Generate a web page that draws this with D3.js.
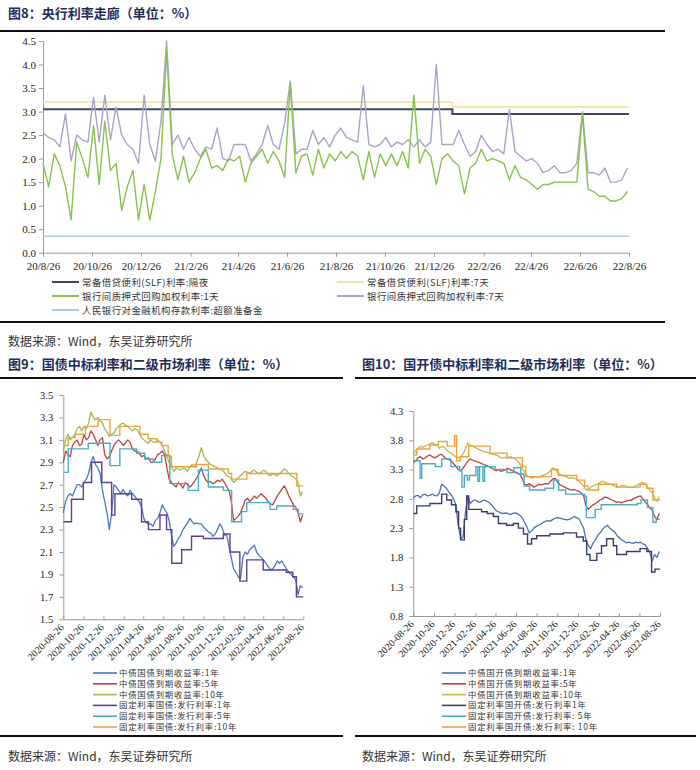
<!DOCTYPE html>
<html><head><meta charset="utf-8">
<script src="https://cdn.jsdelivr.net/npm/d3@7"></script>
<style>body{margin:0;background:#fff}svg{display:block}</style>
</head><body>
<svg id="c" width="700" height="770"></svg>
<script>
// ---------------- DATA ----------------
const tickDates = ["2020-08-26","2020-10-26","2020-12-26","2021-02-26","2021-04-26","2021-06-26","2021-08-26","2021-10-26","2021-12-26","2022-02-26","2022-04-26","2022-06-26","2022-08-26"];

// Fig 8 (weekly observations from 2020-08-26)
const dr007 = [2.55,2.45,2.4,2.25,2.95,1.95,2.5,2.4,2.35,3.3,2.35,3.35,2.4,
 3.1,2.5,2.3,2.2,1.9,3.35,2.3,1.95,2.8,4.5,2.3,2.5,2.2,
 2.45,2.2,2.05,2.25,2.2,2.65,2.0,1.95,2.3,2.3,2.3,1.95,2.1,
 2.3,2.7,2.3,2.2,2.75,3.65,2.1,2.2,2.2,2.6,2.3,2.45,2.25,
 2.5,2.65,2.45,2.4,2.35,3.55,2.3,2.25,2.3,2.45,2.25,2.35,2.3,
 2.4,2.25,2.4,2.25,2.35,4.0,2.3,2.3,2.3,2.6,2.3,2.05,2.15,
 2.5,2.3,2.15,2.2,2.1,3.05,2.15,2.05,1.95,2.0,1.9,1.7,1.75,
 1.85,1.7,1.7,1.75,1.9,3.0,1.7,1.7,1.65,1.8,1.5,1.5,1.55,1.8];
const dr001 = [1.9,1.4,2.1,1.85,1.4,0.7,2.35,2.0,1.6,2.7,1.45,2.8,1.75,
 1.9,0.9,1.4,1.75,0.7,1.45,0.7,1.3,2.0,4.3,2.1,1.55,2.05,
 1.5,1.7,2.0,2.2,1.8,1.85,1.75,2.0,1.95,2.05,1.5,1.9,2.05,
 2.2,1.9,2.15,1.95,1.6,3.6,1.7,2.05,2.1,1.65,2.2,1.8,2.1,
 1.95,2.15,2.0,2.15,2.05,1.55,2.15,1.6,2.1,1.85,2.1,1.85,2.15,
 1.8,3.35,1.9,2.2,2.05,1.45,2.0,2.1,1.95,1.85,1.25,1.8,1.9,
 2.2,1.95,2.0,1.95,1.9,1.55,1.85,1.6,1.55,1.45,1.35,1.45,1.45,
 1.5,1.5,1.5,1.5,1.5,2.95,1.35,1.3,1.2,1.2,1.1,1.1,1.15,1.3];
const slfOnDates = ["2020-08-26","2022-01-18"], slfOnVals = [3.05,2.95];
const slf7dDates = ["2020-08-26","2022-01-18"], slf7dVals = [3.2,3.1];
const excessDates = ["2020-08-26"], excessVals = [0.35];
const fig8Labels = ["常备借贷便利(SLF)利率:隔夜","常备借贷便利(SLF)利率:7天","银行间质押式回购加权利率:1天","银行间质押式回购加权利率:7天","人民银行对金融机构存款利率:超额准备金"];

// Fig 9 : treasury yields (weekly) and issuance rates (step change points)
const cgb1y = [2.45,2.55,2.6,2.62,2.6,2.65,2.7,2.7,2.68,2.72,2.75,2.8,2.9,
 2.95,2.88,2.85,2.8,2.65,2.55,2.45,2.3,2.45,2.7,2.68,2.65,2.62,
 2.66,2.62,2.6,2.65,2.62,2.6,2.57,2.55,2.5,2.4,2.36,2.35,2.35,
 2.33,2.38,2.4,2.45,2.52,2.48,2.45,2.38,2.25,2.15,2.18,2.22,2.25,
 2.3,2.33,2.36,2.4,2.37,2.35,2.36,2.35,2.35,2.32,2.3,2.28,2.27,
 2.24,2.26,2.3,2.35,2.32,2.25,2.25,2.15,2.05,1.95,1.92,1.88,1.86,
 2.05,2.1,2.08,2.12,2.14,2.16,2.1,2.07,2.05,2.03,2.0,1.97,1.94,
 1.95,1.98,2.02,2.0,2.02,1.98,1.95,1.92,1.9,1.88,1.85,1.72,1.8,1.78];
const cgb5y = [2.9,3.0,2.97,2.95,3.05,3.08,3.1,3.05,3.06,3.15,3.1,3.12,3.18,
 3.15,3.1,3.05,3.1,3.12,2.97,2.93,2.95,3.0,3.05,3.08,3.1,3.08,
 3.05,3.07,3.1,3.08,3.02,3.0,3.0,2.98,2.95,2.96,2.93,2.94,2.9,
 2.9,2.93,2.97,2.98,3.0,2.97,2.85,2.75,2.72,2.7,2.68,2.72,2.7,
 2.67,2.72,2.7,2.68,2.7,2.73,2.76,2.8,2.85,2.78,2.74,2.72,2.73,
 2.71,2.72,2.74,2.73,2.75,2.72,2.68,2.65,2.55,2.38,2.4,2.42,2.45,
 2.5,2.56,2.58,2.55,2.57,2.6,2.58,2.6,2.62,2.6,2.58,2.55,2.53,
 2.52,2.56,2.6,2.63,2.66,2.69,2.65,2.6,2.56,2.52,2.5,2.45,2.37,2.43];
const cgb10y = [3.0,3.1,3.15,3.1,3.12,3.15,3.2,3.22,3.18,3.22,3.2,3.25,3.35,
 3.3,3.28,3.3,3.27,3.25,3.2,3.17,3.13,3.15,3.16,3.2,3.22,3.24,
 3.25,3.23,3.22,3.2,3.18,3.2,3.19,3.16,3.12,3.1,3.08,3.07,3.1,
 3.08,3.08,3.1,3.08,3.05,3.0,2.95,2.9,2.86,2.82,2.85,2.84,2.83,
 2.85,2.84,2.82,2.86,2.88,2.87,2.9,2.96,3.03,2.96,2.92,2.9,2.88,
 2.87,2.86,2.85,2.84,2.83,2.81,2.78,2.77,2.75,2.72,2.74,2.76,2.78,
 2.8,2.82,2.81,2.8,2.82,2.83,2.81,2.8,2.81,2.83,2.82,2.79,2.78,
 2.8,2.79,2.78,2.8,2.82,2.84,2.83,2.8,2.78,2.77,2.75,2.72,2.6,2.64];
const iss1yDates = ["2020-08-26","2020-09-20","2020-10-26","2020-11-20","2020-12-21","2021-01-20","2021-01-30","2021-03-22","2021-04-21","2021-05-12","2021-06-16","2021-07-06","2021-07-22","2021-08-21","2021-09-20","2021-10-26","2021-12-26","2022-01-15","2022-02-14","2022-03-07","2022-04-26","2022-07-05","2022-07-25","2022-08-05"];
const iss1yVals = [2.37,2.57,2.72,2.9,2.72,2.43,2.62,2.57,2.37,2.3,2.43,2.3,2.0,2.12,2.24,2.22,2.26,2.1,1.84,2.03,1.94,1.92,1.88,1.7];
const iss5yDates = ["2020-08-26","2020-09-10","2020-11-10","2021-01-15","2021-02-14","2021-04-06","2021-05-01","2021-05-27","2021-06-21","2021-07-16","2021-09-10","2021-10-11","2021-11-10","2021-12-26","2022-01-20","2022-02-19","2022-03-07","2022-05-17","2022-06-06","2022-07-27","2022-08-11"];
const iss5yVals = [2.81,3.02,3.07,2.87,3.02,2.98,2.93,2.9,2.96,2.71,2.65,2.83,2.68,2.65,2.37,2.46,2.54,2.48,2.51,2.48,2.44];
const iss10yDates = ["2020-08-26","2020-09-10","2020-10-01","2020-11-01","2020-12-10","2021-01-15","2021-02-14","2021-04-16","2021-05-11","2021-06-06","2021-06-21","2021-07-11","2021-07-21","2021-10-06","2021-11-10","2022-01-10","2022-01-20","2022-03-07","2022-08-06"];
const iss10yVals = [3.05,3.12,3.15,3.22,3.28,3.14,3.22,3.15,3.11,3.08,3.05,2.95,2.86,2.88,2.84,2.8,2.75,2.8,2.69];
const fig9Labels = ["中债国债到期收益率:1年","中债国债到期收益率:5年","中债国债到期收益率:10年","固定利率国债:发行利率:1年","固定利率国债:发行利率:5年","固定利率国债:发行利率:10年"];

// Fig 10 : CDB yields (weekly) and issuance rates (step change points)
const cdb1y = [2.82,2.85,2.86,2.82,2.87,2.88,2.85,2.86,2.88,2.86,2.85,2.9,3.05,
 3.02,2.98,2.92,2.87,2.8,2.7,2.35,2.12,2.15,2.55,2.85,2.72,2.76,
 2.78,2.76,2.74,2.76,2.78,2.76,2.74,2.7,2.65,2.6,2.58,2.56,2.55,
 2.56,2.55,2.53,2.55,2.56,2.55,2.52,2.48,2.4,2.32,2.22,2.25,2.3,
 2.33,2.35,2.37,2.4,2.42,2.43,2.42,2.45,2.47,2.48,2.47,2.46,2.45,
 2.44,2.45,2.47,2.5,2.48,2.46,2.38,2.3,2.1,2.0,1.95,2.05,2.1,
 2.18,2.22,2.28,2.32,2.35,2.3,2.27,2.24,2.18,2.14,2.1,2.08,2.05,
 2.06,2.05,2.04,2.06,2.05,2.06,2.03,2.02,1.96,1.88,1.74,1.85,1.8,1.9];
const cdb5y = [3.42,3.45,3.5,3.52,3.48,3.5,3.53,3.55,3.52,3.5,3.52,3.55,3.56,
 3.52,3.48,3.47,3.45,3.4,3.36,3.3,3.28,3.32,3.38,3.44,3.48,3.46,
 3.45,3.43,3.42,3.4,3.38,3.37,3.35,3.33,3.3,3.28,3.3,3.27,3.28,
 3.3,3.32,3.3,3.28,3.26,3.24,3.22,3.15,3.05,3.04,3.06,3.03,3.0,
 3.02,3.05,3.04,3.05,3.06,3.05,3.1,3.14,3.15,3.08,3.04,3.02,3.0,
 2.98,2.96,2.95,2.96,2.94,2.93,2.9,2.85,2.68,2.62,2.66,2.7,2.72,
 2.75,2.78,2.8,2.83,2.82,2.8,2.78,2.76,2.74,2.75,2.73,2.75,2.76,
 2.78,2.77,2.8,2.82,2.84,2.85,2.8,2.75,2.7,2.65,2.6,2.5,2.45,2.55];
const cdb10y = [3.57,3.62,3.66,3.7,3.68,3.7,3.72,3.74,3.76,3.73,3.72,3.66,3.7,
 3.68,3.64,3.6,3.58,3.55,3.52,3.5,3.52,3.56,3.65,3.75,3.72,3.7,
 3.68,3.66,3.64,3.62,3.6,3.6,3.58,3.57,3.56,3.55,3.53,3.5,3.5,
 3.51,3.5,3.52,3.5,3.48,3.45,3.4,3.33,3.26,3.2,3.18,3.15,3.17,
 3.18,3.17,3.19,3.2,3.22,3.24,3.28,3.33,3.3,3.25,3.22,3.2,3.19,
 3.17,3.15,3.16,3.15,3.14,3.1,3.06,3.02,2.95,2.96,3.0,3.02,3.04,
 3.06,3.08,3.1,3.08,3.07,3.05,3.04,3.02,3.0,3.01,3.02,3.03,3.01,
 3.0,2.99,3.0,3.02,3.04,3.07,3.08,3.05,3.0,2.95,2.9,2.82,2.76,2.84];
const cdbIss1yDates = ["2020-08-26","2020-09-05","2020-10-14","2020-11-18","2020-12-03","2020-12-17","2020-12-30","2021-01-07","2021-01-13","2021-01-24","2021-01-31","2021-02-06","2021-03-16","2021-04-02","2021-04-20","2021-05-05","2021-05-29","2021-06-18","2021-07-03","2021-07-18","2021-07-30","2021-08-11","2021-08-26","2021-10-04","2021-11-13","2021-12-22","2022-01-11","2022-01-21","2022-01-31","2022-02-20","2022-03-06","2022-03-21","2022-04-10","2022-04-20","2022-05-19","2022-06-28","2022-07-18","2022-08-01","2022-08-11"];
const cdbIss1yVals = [2.55,2.68,2.72,2.88,2.78,2.7,2.58,2.3,2.1,2.45,2.85,2.62,2.58,2.55,2.5,2.38,2.35,2.38,2.3,2.2,2.03,2.12,2.17,2.2,2.22,2.15,2.08,1.85,1.75,1.87,2.0,2.12,2.0,1.85,1.9,1.95,1.9,1.55,1.6];
const cdbIss5yDates = ["2020-08-26","2020-09-15","2020-09-20","2020-10-30","2020-11-18","2020-12-15","2021-01-10","2021-01-17","2021-01-24","2021-02-02","2021-02-08","2021-02-27","2021-03-05","2021-03-10","2021-03-20","2021-03-25","2021-04-25","2021-05-30","2021-06-20","2021-07-10","2021-07-20","2021-08-05","2021-09-20","2021-10-15","2021-10-30","2021-11-20","2022-01-15","2022-01-20","2022-02-15","2022-03-05","2022-06-20","2022-07-01","2022-07-20","2022-08-05","2022-08-15"];
const cdbIss5yVals = [3.45,3.15,3.4,3.35,3.48,3.35,3.28,3.0,3.2,3.12,3.2,3.35,3.1,3.35,3.1,3.35,3.3,3.25,3.33,3.22,3.02,2.95,2.98,3.12,2.95,2.88,2.84,2.48,2.62,2.7,2.72,2.78,2.65,2.4,2.45];
const cdbIss10yDates = ["2020-08-26","2020-09-05","2020-10-14","2020-11-08","2020-12-05","2020-12-26","2021-01-01","2021-01-12","2021-02-06","2021-04-10","2021-05-30","2021-07-15","2021-07-25","2021-10-09","2021-10-29","2021-12-22","2022-01-15","2022-01-25","2022-02-25","2022-04-20","2022-06-28","2022-07-18","2022-08-05"];
const cdbIss10yVals = [3.55,3.65,3.72,3.78,3.7,3.88,3.45,3.52,3.7,3.58,3.5,3.35,3.18,3.3,3.2,3.12,3.02,2.95,3.05,3.0,3.05,2.98,2.78];
const fig10Labels = ["中债国开债到期收益率:1年","中债国开债到期收益率:5年","中债国开债到期收益率:10年","固定利率国开债:发行利率1年","固定利率国开债:发行利率: 5年","固定利率国开债:发行利率: 10年"];

const sourceText = "数据来源：Wind，东吴证券研究所";

// ---------------- DRAW ----------------
const svg = d3.select("#c");
const serif = "'Liberation Serif','Times New Roman',serif";
const cjk = "'Noto Sans CJK SC','Noto Sans',sans-serif";
const titleColor = "#1f2d5a";
const parse = d3.timeParse("%Y-%m-%d");
const t0 = parse("2020-08-26"), tEnd = parse("2022-08-26");
const weekDates = d3.range(105).map(i => d3.timeDay.offset(t0, 7 * i));
const ticks = tickDates.map(parse);

function header(x, y, txt, x1, x2, ly) {
  svg.append("text").attr("x", x).attr("y", y).text(txt)
    .attr("font-family", cjk).attr("font-weight", "bold").attr("font-size", 13)
    .attr("fill", titleColor);
  svg.append("line").attr("x1", x1).attr("x2", x2).attr("y1", ly).attr("y2", ly)
    .attr("stroke", "#111").attr("stroke-width", 2);
}
function footer(x, y, x1, x2, ly) {
  svg.append("line").attr("x1", x1).attr("x2", x2).attr("y1", ly).attr("y2", ly)
    .attr("stroke", "#111").attr("stroke-width", 2);
  svg.append("text").attr("x", x).attr("y", y).text(sourceText)
    .attr("font-family", cjk).attr("font-size", 12).attr("fill", "#333");
}
function weeklyPath(g, x, y, vals, color, w) {
  const pts = vals.map((v, i) => ({ d: weekDates[i], v }));
  g.append("path").datum(pts)
    .attr("d", d3.line().x(p => x(p.d)).y(p => y(p.v)))
    .attr("fill", "none").attr("stroke", color).attr("stroke-width", w)
    .attr("stroke-linejoin", "round");
}
function stepPath(g, x, y, dates, vals, color, w) {
  const pts = dates.map((d, i) => ({ d: parse(d), v: vals[i] }));
  pts.push({ d: tEnd, v: vals[vals.length - 1] });
  g.append("path").datum(pts)
    .attr("d", d3.line().curve(d3.curveStepAfter).x(p => x(p.d)).y(p => y(p.v)))
    .attr("fill", "none").attr("stroke", color).attr("stroke-width", w);
}
function styleAxis(sel, fs) {
  sel.selectAll("path,line").attr("stroke", "#9a9a9a");
  sel.selectAll("text").attr("font-family", serif).attr("font-size", fs).attr("fill", "#222");
}

// ===== Figure 8 =====
header(8, 18, "图8：央行利率走廊（单位：%）", 0, 665, 31);
{
  const x = d3.scaleTime().domain([t0, tEnd]).range([43, 629]);
  const y = d3.scaleLinear().domain([0, 4.5]).range([252.7, 41]);
  const g = svg.append("g");
  const ya = g.append("g").attr("transform", "translate(43,0)")
    .call(d3.axisLeft(y).tickValues(d3.range(0, 4.51, 0.5)).tickFormat(d3.format(".1f")).tickSize(4).tickSizeOuter(0));
  styleAxis(ya, 11);
  const xa = g.append("g").attr("transform", "translate(0,252.7)")
    .call(d3.axisBottom(x).tickValues(ticks).tickFormat(d3.timeFormat("%y/%-m/%d")).tickSize(4).tickSizeOuter(0));
  styleAxis(xa, 11);
  xa.selectAll("text").attr("dy", "0.95em");
  const c8 = ["#3c4563", "#f1e3a6", "#86c24c", "#aaa3c8", "#a9cde3"];
  stepPath(g, x, y, excessDates, excessVals, c8[4], 1.3);
  stepPath(g, x, y, slf7dDates, slf7dVals, c8[1], 1.6);
  stepPath(g, x, y, slfOnDates, slfOnVals, c8[0], 2);
  weeklyPath(g, x, y, dr007, c8[3], 1.4);
  weeklyPath(g, x, y, dr001, c8[2], 1.4);
  // legend
  const pos = [[52, 282], [337, 282], [52, 296], [337, 296], [52, 310]];
  fig8Labels.forEach((lab, i) => {
    const [lx, ly] = pos[i];
    g.append("line").attr("x1", lx).attr("x2", lx + 27).attr("y1", ly).attr("y2", ly)
      .attr("stroke", c8[i]).attr("stroke-width", 2);
    g.append("text").attr("x", lx + 30).attr("y", ly + 3.5).text(lab)
      .attr("font-family", cjk).attr("font-size", 9.4).attr("letter-spacing", 0.5).attr("fill", "#333");
  });
}
footer(8, 346, 0, 665, 322);

// ===== Figures 9 & 10 =====
function smallPanel(opts) {
  const x = d3.scaleTime().domain([t0, tEnd]).range([opts.x0, opts.x1]);
  const y = d3.scaleLinear().domain(opts.dom).range([opts.yb, opts.yt]);
  const g = svg.append("g");
  const ya = g.append("g").attr("transform", `translate(${opts.x0},0)`)
    .call(d3.axisLeft(y).tickValues(opts.yticks).tickFormat(d3.format(".1f")).tickSize(4).tickSizeOuter(0));
  styleAxis(ya, 10.5);
  ya.selectAll("text").attr("dx", "-0.3em");
  const xa = g.append("g").attr("transform", `translate(0,${opts.yb})`)
    .call(d3.axisTop(x).tickValues(ticks).tickFormat(d3.timeFormat("%Y-%m-%d")).tickSize(3).tickSizeOuter(0));
  styleAxis(xa, 10);
  xa.selectAll("text").attr("text-anchor", "end").attr("dy", null)
    .attr("transform", "translate(5,13) rotate(-45)");
  const c = opts.colors;
  opts.weekly.forEach((vals, i) => weeklyPath(g, x, y, vals, c[i], 1.3));
  opts.steps.forEach((s, i) => stepPath(g, x, y, s[0], s[1], c[3 + i], 1.4));
  opts.labels.forEach((lab, i) => {
    const ly = opts.legY + i * 10.8;
    g.append("line").attr("x1", opts.legX).attr("x2", opts.legX + 24).attr("y1", ly).attr("y2", ly)
      .attr("stroke", c[i]).attr("stroke-width", 1.6);
    g.append("text").attr("x", opts.legX + 26).attr("y", ly + 3).text(lab)
      .attr("font-family", cjk).attr("font-size", 8.4).attr("letter-spacing", 0.8).attr("fill", "#333");
  });
}

header(8, 369, "图9：国债中标利率和二级市场利率（单位：%）", 0, 343, 378);
smallPanel({
  x0: 63.3, x1: 303.3, yb: 619.3, yt: 395, dom: [1.5, 3.5],
  yticks: d3.range(1.5, 3.51, 0.2),
  weekly: [cgb1y, cgb5y, cgb10y],
  steps: [[iss1yDates, iss1yVals], [iss5yDates, iss5yVals], [iss10yDates, iss10yVals]],
  colors: ["#4a78be", "#c0413a", "#9dba57", "#5d3f95", "#4bacc6", "#eda23f"],
  labels: fig9Labels, legX: 93, legY: 673
});
footer(8, 761, 0, 343, 736);

header(362, 369, "图10：国开债中标利率和二级市场利率（单位：%）", 355, 696, 378);
smallPanel({
  x0: 413.3, x1: 660, yb: 616, yt: 411, dom: [0.8, 4.3],
  yticks: d3.range(0.8, 4.31, 0.5),
  weekly: [cdb1y, cdb5y, cdb10y],
  steps: [[cdbIss1yDates, cdbIss1yVals], [cdbIss5yDates, cdbIss5yVals], [cdbIss10yDates, cdbIss10yVals]],
  colors: ["#4a72b8", "#c0413a", "#c4b64a", "#3d3a72", "#4bacc6", "#eda23f"],
  labels: fig10Labels, legX: 442, legY: 673
});
footer(362, 761, 355, 696, 736);
</script>
</body></html>
